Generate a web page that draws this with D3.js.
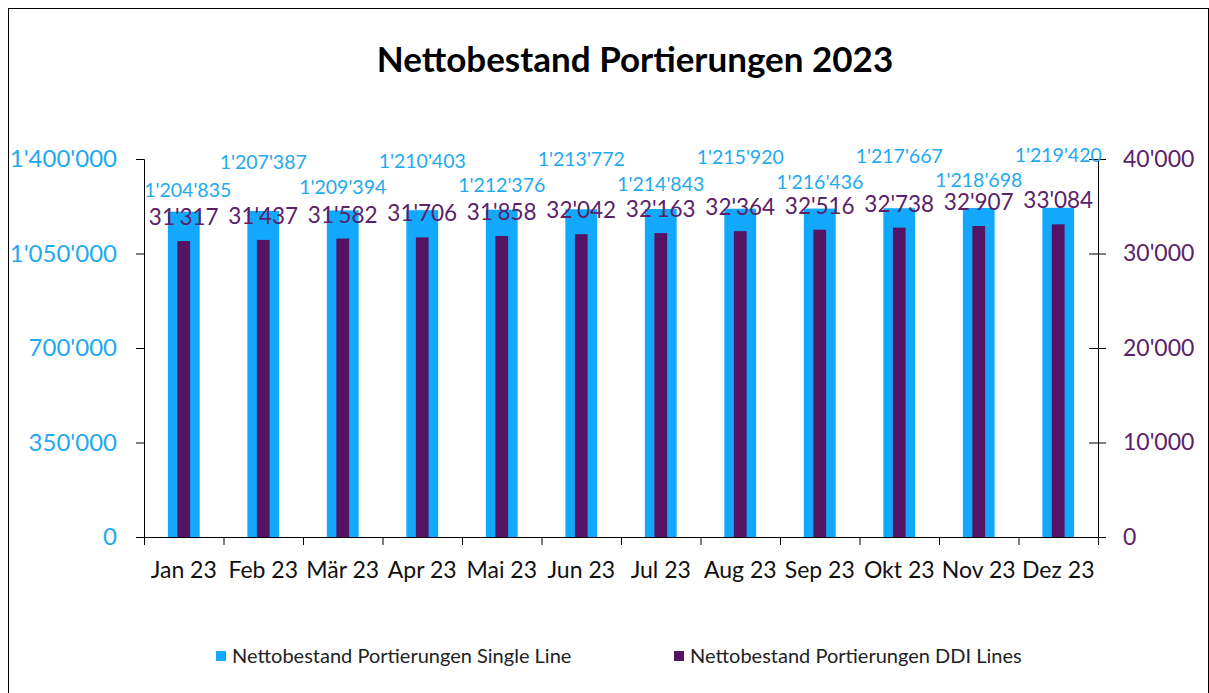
<!DOCTYPE html>
<html>
<head>
<meta charset="utf-8">
<script src="https://cdn.jsdelivr.net/npm/d3@7"></script>
<style>
  body { margin: 0; background: #fff; }
  text { font-family: Lato, "Open Sans", sans-serif; }
</style>
</head>
<body>
<div id="chart"></div>
<script>
// monthly values
var months = ["Jan 23", "Feb 23", "Mär 23", "Apr 23", "Mai 23", "Jun 23",
              "Jul 23", "Aug 23", "Sep 23", "Okt 23", "Nov 23", "Dez 23"];
var singleLine = [1204835, 1207387, 1209394, 1210403, 1212376, 1213772,
                  1214843, 1215920, 1216436, 1217667, 1218698, 1219420];
var ddiLines = [31317, 31437, 31582, 31706, 31858, 32042,
                32163, 32364, 32516, 32738, 32907, 33084];
var leftTicks = [0, 350000, 700000, 1050000, 1400000];
var rightTicks = [0, 10000, 20000, 30000, 40000];
var seriesNames = ["Nettobestand Portierungen Single Line", "Nettobestand Portierungen DDI Lines"];

var W = 1209, H = 693;
var margin = {top: 159, left: 144, right: 111, bottom: 156};
var width = W - margin.left - margin.right,
    height = H - margin.top - margin.bottom;

var blue = "#12a8fb", purple = "#541463";
var blueText = "#1fa9ee", purpleText = "#5b2169";

// swiss style thousands separator
var fmt = function(v) { return d3.format(",")(v).replace(/,/g, "'"); };

var svg = d3.select("#chart").append("svg")
    .attr("width", W)
    .attr("height", H);

svg.append("rect")
    .attr("x", 8.5).attr("y", 8.5)
    .attr("width", W - 9).attr("height", H)
    .attr("fill", "none").attr("stroke", "#000");

svg.append("text")
    .attr("x", 635)
    .attr("y", 72)
    .attr("text-anchor", "middle")
    .style("font-size", "35px")
    .style("font-weight", "bold")
    .text("Nettobestand Portierungen 2023");

var g = svg.append("g")
    .attr("transform", "translate(" + margin.left + "," + margin.top + ")");

var x = d3.scaleBand().domain(months).range([0, width]);
var yL = d3.scaleLinear().domain([0, 1400000]).range([height, 0]);
var yR = d3.scaleLinear().domain([0, 40000]).range([height, 0]);

var bw = x.bandwidth() * 0.4, pw = x.bandwidth() * 0.16;

g.selectAll(".single")
    .data(singleLine)
  .enter().append("rect")
    .attr("class", "single")
    .attr("x", function(d, i) { return x(months[i]) + x.bandwidth() / 2 - bw / 2; })
    .attr("width", bw)
    .attr("y", function(d) { return yL(d); })
    .attr("height", function(d) { return height - yL(d); })
    .attr("fill", blue);

g.selectAll(".ddi")
    .data(ddiLines)
  .enter().append("rect")
    .attr("class", "ddi")
    .attr("x", function(d, i) { return x(months[i]) + x.bandwidth() / 2 - pw / 2; })
    .attr("width", pw)
    .attr("y", function(d) { return yR(d); })
    .attr("height", function(d) { return height - yR(d); })
    .attr("fill", purple);

// left axis
var left = g.append("g")
    .call(d3.axisLeft(yL).tickValues(leftTicks).tickFormat(fmt).tickSize(8).tickPadding(19));
left.selectAll("text").style("font-size", "24px").attr("fill", blueText);

// right axis (ticks cross the line)
var right = g.append("g")
    .attr("transform", "translate(" + width + ",0)")
    .call(d3.axisRight(yR).tickValues(rightTicks).tickFormat(fmt).tickSize(8).tickPadding(17));
right.selectAll(".tick line").attr("x1", -9).attr("x2", 8);
right.selectAll("text").style("font-size", "23px").attr("fill", purpleText);

// bottom axis, ticks on band edges
var bottom = g.append("g")
    .attr("transform", "translate(0," + height + ")")
    .call(d3.axisBottom(x).tickSize(0).tickPadding(25));
bottom.select(".domain").attr("d", "M-8,0.5H" + (width + 8));
bottom.selectAll("text").style("font-size", "23px").attr("fill", "#111");
bottom.selectAll(".edge")
    .data(d3.range(months.length + 1))
  .enter().append("line")
    .attr("class", "edge")
    .attr("x1", function(i) { return i * x.step() + 0.5; })
    .attr("x2", function(i) { return i * x.step() + 0.5; })
    .attr("y1", 0).attr("y2", 8)
    .attr("stroke", "#000");

// data labels, staggered like the original
g.selectAll(".lblS")
    .data(singleLine)
  .enter().append("text")
    .attr("class", "lblS")
    .attr("x", function(d, i) { return x(months[i]) + x.bandwidth() / 2 + (i == 0 ? 4 : 0); })
    .attr("y", function(d, i) { return yL(d) - (i % 2 ? 41.5 + i * 0.4 : 15 + i * 0.55); })
    .attr("text-anchor", "middle")
    .style("font-size", "19.5px")
    .attr("fill", blueText)
    .text(fmt);

g.selectAll(".lblD")
    .data(ddiLines)
  .enter().append("text")
    .attr("class", "lblD")
    .attr("x", function(d, i) { return x(months[i]) + x.bandwidth() / 2; })
    .attr("y", function(d) { return yR(d) - 16; })
    .attr("text-anchor", "middle")
    .style("font-size", "22.5px")
    .attr("fill", purpleText)
    .text(fmt);

// legend
var legend = svg.selectAll(".legend")
    .data(seriesNames)
  .enter().append("g")
    .attr("transform", function(d, i) { return "translate(" + (216 + i * 458) + ",651)"; });
legend.append("rect")
    .attr("width", 10).attr("height", 10)
    .attr("fill", function(d, i) { return i ? purple : blue; });
legend.append("text")
    .attr("x", 16).attr("y", 12)
    .style("font-size", "20px")
    .attr("fill", "#222")
    .text(function(d) { return d; });
</script>
</body>
</html>
